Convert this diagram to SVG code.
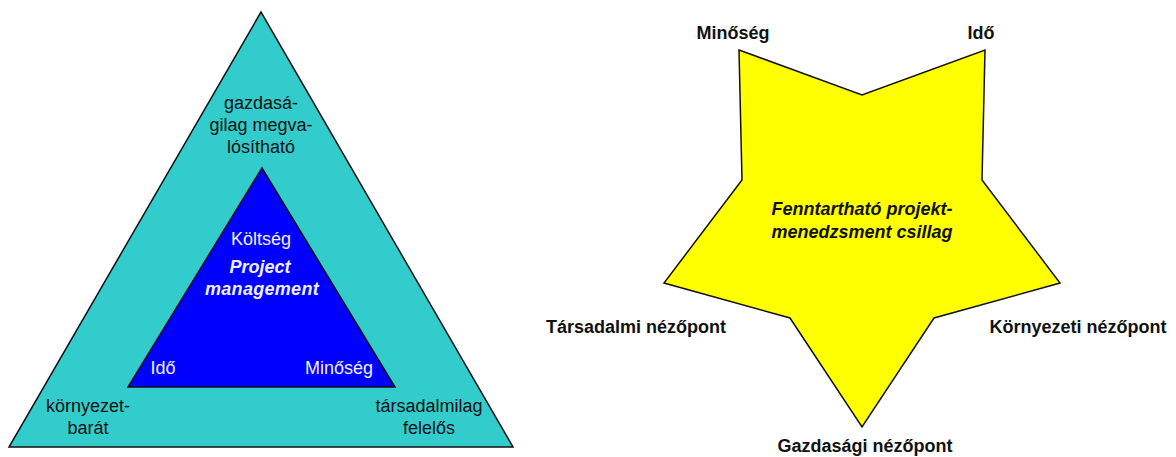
<svg xmlns="http://www.w3.org/2000/svg" width="1176" height="457" viewBox="0 0 1176 457">
  <style>
    .shape { stroke: #111; stroke-width: 1.5; stroke-linejoin: miter; }
    .outer { fill: #33CCCC; }
    .inner { fill: #0000FF; }
    .star { fill: #FFFF00; }
    text { font-family: "Liberation Sans", Arial, sans-serif; font-size: 18px; text-anchor: middle; }
    .dark { fill: #111; }
    .light { fill: #EEF0FF; }
    .bi { font-weight: bold; font-style: italic; }
    .b { font-weight: bold; }
  </style>
  <rect width="1176" height="457" fill="#FFFFFF"/>

  <!-- Sustainability triangle (outer) -->
  <g id="outer-triangle">
    <polygon class="shape outer" points="261,12 9,447 513,447"/>
    <text class="dark" x="261" y="109">gazdasá-</text>
    <text class="dark" x="261" y="131">gilag megva-</text>
    <text class="dark" x="261" y="153">lósítható</text>
    <text class="dark" x="88" y="412">környezet-</text>
    <text class="dark" x="88" y="434">barát</text>
    <text class="dark" x="429" y="412">társadalmilag</text>
    <text class="dark" x="429" y="434">felelős</text>
  </g>

  <!-- Classic project management triangle (inner) -->
  <g id="inner-triangle">
    <polygon class="shape inner" points="262,168 128,387 395,387"/>
    <text class="light" x="261" y="245">Költség</text>
    <text class="light bi" x="260" y="273">Project</text>
    <text class="light bi" x="262" y="295" letter-spacing="0.3">management</text>
    <text class="light" x="163" y="374">Idő</text>
    <text class="light" x="339" y="374">Minőség</text>
  </g>

  <!-- Sustainable project management star -->
  <g id="star">
    <polygon class="shape star" points="739,50 862,95 985,50 982,180 1060,283 934,318 862,427 790,318 664,283 742,180"/>
    <text class="dark bi" x="862" y="215">Fenntartható projekt-</text>
    <text class="dark bi" x="862" y="238">menedzsment csillag</text>
  </g>

  <g id="star-labels">
    <text class="dark b" x="733" y="39">Minőség</text>
    <text class="dark b" x="981" y="39">Idő</text>
    <text class="dark b" x="636" y="333">Társadalmi nézőpont</text>
    <text class="dark b" x="1078" y="333">Környezeti nézőpont</text>
    <text class="dark b" x="865" y="452">Gazdasági nézőpont</text>
  </g>

  <!-- no connectors in this figure -->
  <g id="connectors"/>
</svg>
